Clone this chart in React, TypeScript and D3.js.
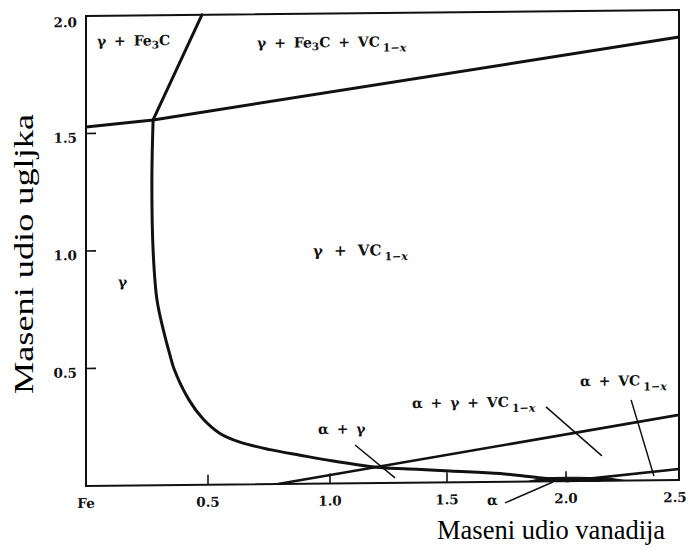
import React from 'react';
import * as d3 from 'd3';

// ---- axis data ----
const xBreaks = [0, 0.5, 1.0, 1.5, 2.0, 2.5];
const xTickLabels = ['Fe', '0.5', '1.0', '1.5', '2.0', '2.5'];
const xTickMarks = [0.5, 1.0, 1.5, 2.0];
const yTickValues = [0.5, 1.0, 1.5, 2.0];
const yTickLabels = ['0.5', '1.0', '1.5', '2.0'];
const yTickMarks = [0.5, 1.0, 1.5];
const xTitle = 'Maseni udio vanadija';
const yTitle = 'Maseni udio ugljka';

// ---- phase boundaries: [mass % V, mass % C] ----
const cementiteLowerBoundary: [number, number][] = [[0, 1.528], [0.275, 1.555], [2.5, 1.885]];
const cementiteGammaBoundary: [number, number][] = [[0.275, 1.555], [0.475, 2.0]];
const gammaBoundary: [number, number][] = [
  [0.275, 1.555], [0.270, 1.299], [0.275, 1.001], [0.291, 0.788], [0.320, 0.648],
  [0.344, 0.554], [0.361, 0.494], [0.422, 0.362], [0.480, 0.280], [0.549, 0.218],
  [0.631, 0.180], [0.754, 0.147], [0.877, 0.122], [1.013, 0.096], [1.214, 0.066],
  [1.372, 0.057], [1.513, 0.048], [1.723, 0.035], [1.861, 0.019], [1.945, 0.010],
  [2.150, 0.001],
];
const alphaGammaBoundary: [number, number][] = [[0.787, 0], [2.5, 0.277]];
const alphaVcBoundary: [number, number][] = [[2.0, 0], [2.5, 0.047]];
const alphaField: [number, number][] = [[1.84, 0], [1.92, 0.015], [2.05, 0.016], [2.2, 0.009], [2.26, 0]];

// ---- region labels and leader lines ----
const regionLabels = ['γ + Fe_3C', 'γ + Fe_3C + VC_{1−x}', 'γ + VC_{1−x}', 'γ', 'α + γ', 'α + γ + VC_{1−x}', 'α + VC_{1−x}', 'α'];
const regionLabelX = [0.045, 0.701, 0.930, 0.131, 0.951, 1.350, 2.062, 1.668];
const regionLabelY = [1.872, 1.857, 0.969, 0.846, 0.211, 0.318, 0.404, -0.098];
const leaderLines: [number, number][][] = [
  [[1.107, 0.163], [1.278, 0.021]],
  [[1.916, 0.317], [2.159, 0.106]],
  [[2.288, 0.343], [2.389, 0.018]],
  [[1.744, -0.090], [1.945, -0.003]],
];

const W = 696;
const H = 554;
const LEFT = 86;
const RIGHT = 679;
const TOP = 16;
const BOTTOM = 486;

const labelFont = "'DejaVu Serif', serif";
const titleFont = "'Liberation Serif', 'Times New Roman', serif";

function renderLabel(s: string) {
  const out: React.ReactNode[] = [];
  const re = /_\{([^}]*)\}|_(.)|([^_]+)/g;
  let m: RegExpExecArray | null;
  let lowered = 0;
  let k = 0;
  while ((m = re.exec(s))) {
    if (m[3] !== undefined) {
      out.push(<tspan key={k++} dy={-lowered}>{m[3]}</tspan>);
      lowered = 0;
    } else {
      const long = m[1] !== undefined;
      const txt = long ? m[1] : m[2];
      const shift = long ? 5 : 3;
      const parts = txt.split(/(x)/).filter((p) => p.length > 0);
      out.push(
        <tspan key={k++} dy={shift - lowered} dx={long ? 3 : 0} fontSize={long ? 11 : 10.5}>
          {parts.map((p, i) => (
            <tspan key={i} fontStyle={p === 'x' ? 'italic' : 'normal'}>{p}</tspan>
          ))}
        </tspan>
      );
      lowered = shift;
    }
  }
  return out;
}

export default function App() {
  const x = d3.scaleLinear().domain(xBreaks).range([LEFT, 208, 330, 447, 566, RIGHT]);
  const y = d3.scaleLinear().domain([0, 2]).range([BOTTOM, TOP]);

  const line = d3.line<[number, number]>().x((d) => x(d[0])).y((d) => y(d[1]));
  const smooth = d3
    .line<[number, number]>()
    .x((d) => x(d[0]))
    .y((d) => y(d[1]))
    .curve(d3.curveCatmullRom.alpha(0.5));

  const skew = `translate(${LEFT},0) skewY(-0.58) translate(${-LEFT},0)`;

  return (
    <svg
      width={W}
      height={H}
      viewBox={`0 0 ${W} ${H}`}
      style={{ position: 'absolute', left: 0, top: 0, background: '#fff' }}
    >
      <rect x={0} y={0} width={W} height={H} fill="#fff" />
      <g transform={skew}>
        {/* frame */}
        <rect x={LEFT} y={TOP} width={RIGHT - LEFT} height={BOTTOM - TOP} fill="none" stroke="#111" strokeWidth={2} />
        {/* tick marks */}
        {xTickMarks.map((v) => (
          <line key={'xt' + v} x1={x(v)} x2={x(v)} y1={y(0)} y2={y(0) - 10} stroke="#111" strokeWidth={1.6} />
        ))}
        {yTickMarks.map((v) => (
          <line key={'yt' + v} x1={x(0)} x2={x(0) + 10} y1={y(v)} y2={y(v)} stroke="#111" strokeWidth={1.6} />
        ))}
        {/* tick labels */}
        {xBreaks.map((v, i) => (
          <text
            key={'xl' + v}
            x={x(v) - (i === xBreaks.length - 1 ? 4 : 0)}
            y={y(0) + 22}
            textAnchor="middle"
            fontFamily={labelFont}
            fontWeight="bold"
            fontSize={13.5}
            fill="#111"
          >
            {xTickLabels[i]}
          </text>
        ))}
        {yTickValues.map((v, i) => (
          <text
            key={'yl' + v}
            x={x(0) - 9}
            y={y(v) + (v === 2 ? 11 : 9)}
            textAnchor="end"
            fontFamily={labelFont}
            fontWeight="bold"
            fontSize={13.5}
            fill="#111"
          >
            {yTickLabels[i]}
          </text>
        ))}
        {/* phase boundaries */}
        <path d={line(cementiteLowerBoundary) || ''} fill="none" stroke="#111" strokeWidth={3} strokeLinejoin="round" />
        <path d={line(cementiteGammaBoundary) || ''} fill="none" stroke="#111" strokeWidth={3} strokeLinecap="round" />
        <path d={smooth(gammaBoundary) || ''} fill="none" stroke="#111" strokeWidth={3} strokeLinecap="round" />
        <path d={line(alphaGammaBoundary) || ''} fill="none" stroke="#111" strokeWidth={2.6} />
        <path d={line(alphaVcBoundary) || ''} fill="none" stroke="#111" strokeWidth={2.6} />
        <path d={(smooth(alphaField) || '') + 'Z'} fill="#111" stroke="#111" strokeWidth={1} />
        {/* leader lines */}
        {leaderLines.map((l, i) => (
          <path key={'ld' + i} d={line(l) || ''} stroke="#111" strokeWidth={1.5} fill="none" />
        ))}
        {/* region labels */}
        {regionLabels.map((s, i) => (
          <text
            key={'rl' + i}
            x={x(regionLabelX[i])}
            y={y(regionLabelY[i])}
            fontFamily={labelFont}
            fontWeight="bold"
            fontSize={i === 2 ? 15 : 14}
            fill="#111"
            style={{ wordSpacing: i === 2 ? '6px' : '3px' }}
          >
            {renderLabel(s)}
          </text>
        ))}
      </g>
      {/* axis titles */}
      <text x={437} y={539} fontFamily={titleFont} fontSize={26.5} fill="#000">
        {xTitle}
      </text>
      <text
        transform="translate(33,254) rotate(-90)"
        textAnchor="middle"
        fontFamily={titleFont}
        fontSize={28}
        textLength={280}
        lengthAdjust="spacingAndGlyphs"
        fill="#000"
      >
        {yTitle}
      </text>
    </svg>
  );
}
